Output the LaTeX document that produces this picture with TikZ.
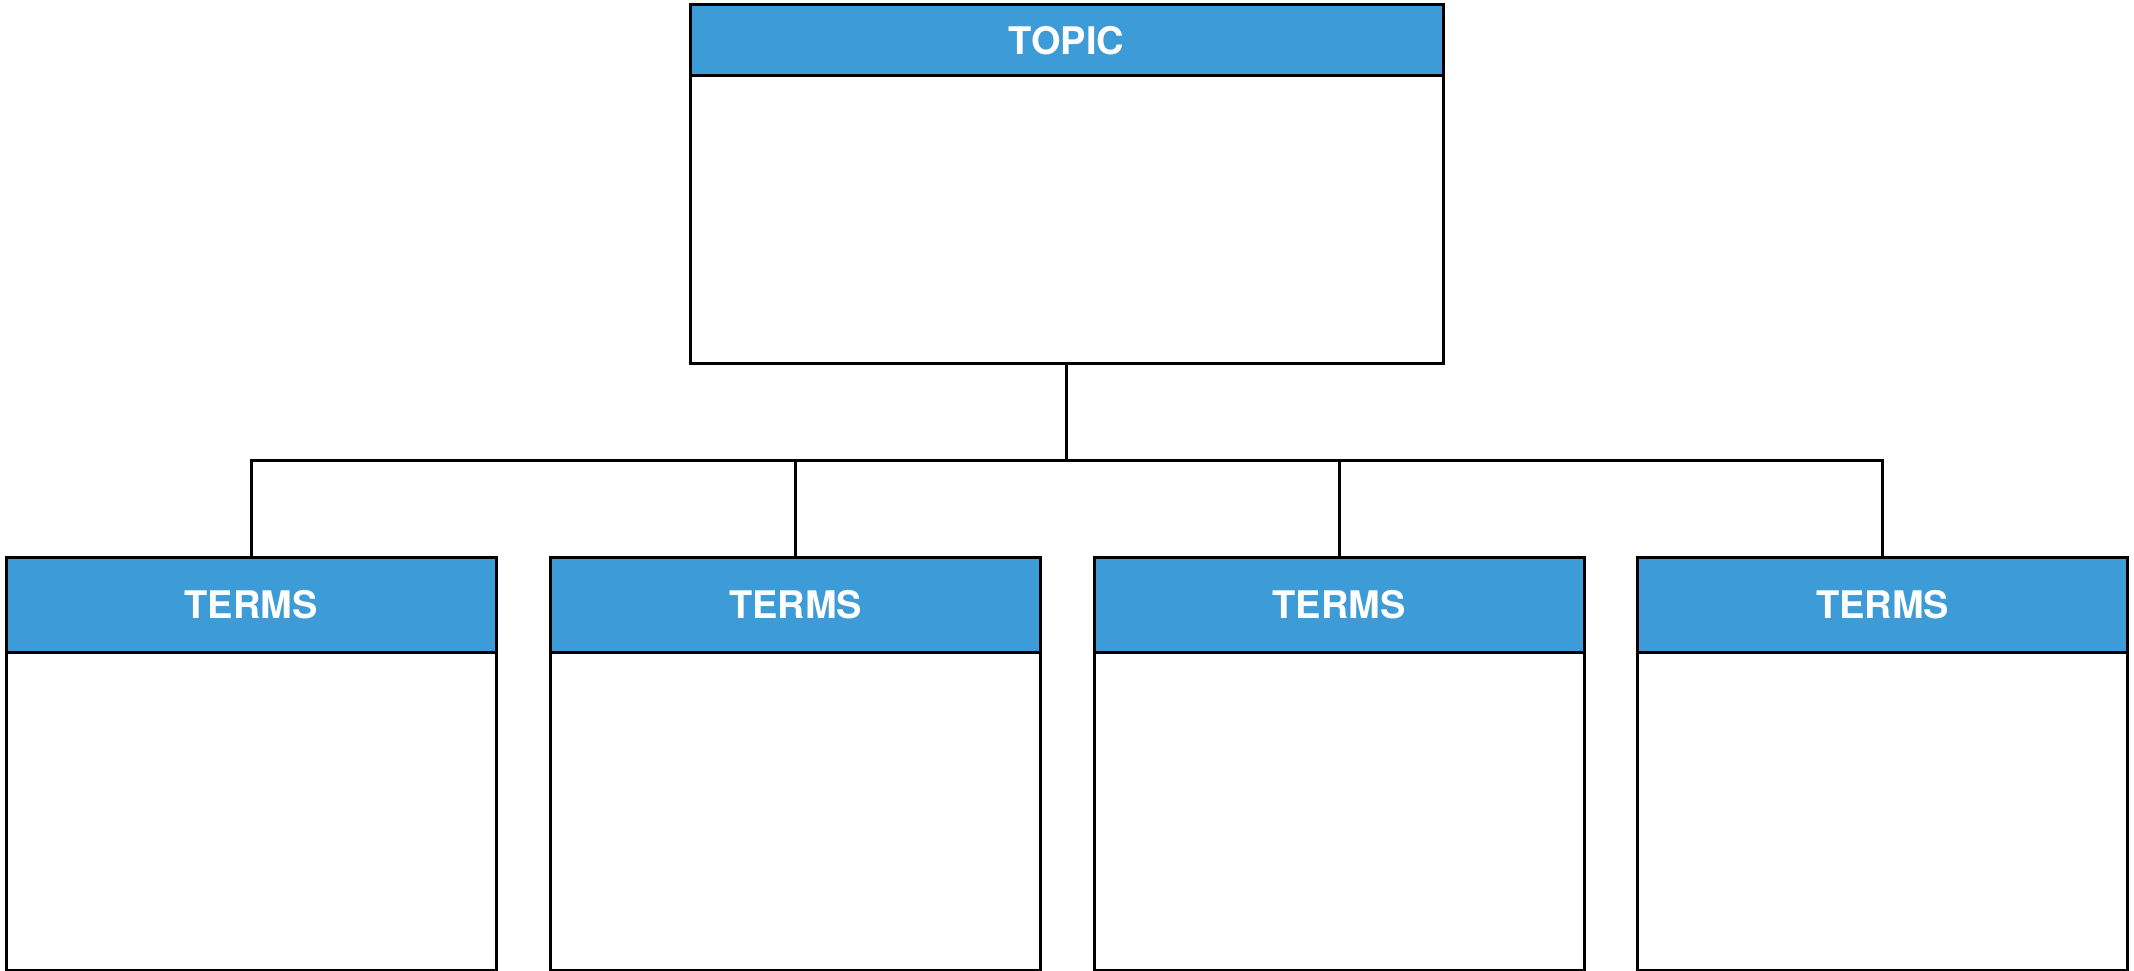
\documentclass[tikz,border=0pt]{standalone}
\usepackage{fontspec}
\setmainfont{TeX Gyre Heros}
\definecolor{headblue}{RGB}{61,155,215}
\tikzset{
  head/.style={draw, line width=3pt, fill=headblue, text=white, inner sep=0pt,
    font=\fontsize{38}{46}\selectfont\bfseries},
  body/.style={draw, line width=3pt, fill=white, inner sep=0pt},
  link/.style={line width=3pt}
}
\begin{document}
\begin{tikzpicture}[x=1pt, y=-1pt]

    \useasboundingbox (0, 0) rectangle (2134, 971);

    \node [body, minimum width=753pt, minimum height=287pt] (topicbody) at (1066.5, 219.5) {};
    \node [head, minimum width=753pt, minimum height=71pt] (topic) at (1066.5, 40.5) {TOPIC};

    \node [body, minimum width=490pt, minimum height=318pt] (body1) at (251, 811) {};
    \node [body, minimum width=490pt, minimum height=318pt] (body2) at (795.5, 811) {};
    \node [body, minimum width=490pt, minimum height=318pt] (body3) at (1339, 811) {};
    \node [body, minimum width=490pt, minimum height=318pt] (body4) at (1882.5, 811) {};
    \node [head, minimum width=490pt, minimum height=95pt] (terms1) at (251, 604.5) {TERMS};
    \node [head, minimum width=490pt, minimum height=95pt] (terms2) at (795.5, 604.5) {TERMS};
    \node [head, minimum width=490pt, minimum height=95pt] (terms3) at (1339, 604.5) {TERMS};
    \node [head, minimum width=490pt, minimum height=95pt] (terms4) at (1882.5, 604.5) {TERMS};

    \coordinate (bus) at (1066.5, 460);

    \draw [link] (topicbody.south) to (bus);
    \draw [link] (terms1.north) |- (bus) -| (terms4.north);
    \draw [link] (terms2.north) to (terms2.north |- bus);
    \draw [link] (terms3.north) to (terms3.north |- bus);

  \end{tikzpicture}
\end{document}
